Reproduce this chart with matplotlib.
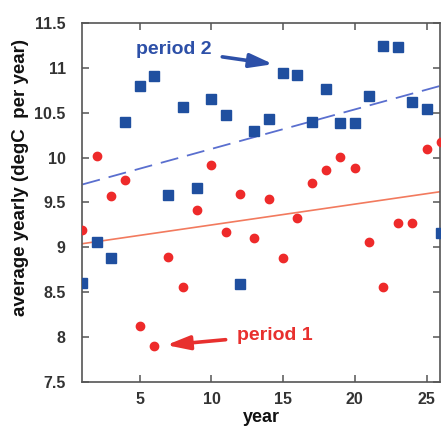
import matplotlib
matplotlib.use("Agg")
import matplotlib.pyplot as plt
import numpy as np
from matplotlib.ticker import FormatStrFormatter

# values
years = list(range(1, 27))
period1 = [9.19, 10.02, 9.57, 9.75, 8.12, 7.90, 8.89, 8.56, 9.42, 9.92,
           9.17, 9.59, 9.10, 9.54, 8.88, 9.33, 9.72, 9.86, 10.01, 9.88,
           9.06, 8.56, 9.27, 9.27, 10.10, 10.17]
period2 = [8.60, 9.06, 8.88, 10.40, 10.80, 10.91, 9.58, 10.56, 9.66, 10.65,
           10.47, 8.59, 10.30, 10.43, 10.94, 10.92, 10.40, 10.76, 10.39, 10.39,
           10.69, 11.24, 11.23, 10.62, 10.54, 9.16]
trend_years = [1, 26]
trend1 = [9.04, 9.62]
trend2 = [9.70, 10.80]

RED = "#ee2a2a"
RED_LINE = "#f27a5e"
BLUE = "#1f4f9f"
BLUE_LINE = "#5a6fcf"
AXIS_GRAY = "#555555"
TEXT_GRAY = "#333333"

plt.rcParams["font.family"] = ["Liberation Sans", "DejaVu Sans"]

fig = plt.figure(figsize=(4.41, 4.32), dpi=100)
ax = fig.add_axes([0.187, 0.116, 0.811, 0.831])

ax.plot(trend_years, trend1, color=RED_LINE, lw=1.2, zorder=2)
ax.plot(trend_years, trend2, color=BLUE_LINE, lw=1.3, dashes=(10, 5), zorder=2)
ax.plot(years, period2, ls="none", marker="s", ms=7.6, color=BLUE, mec=BLUE, zorder=3)
ax.plot(years, period1, ls="none", marker="o", ms=6, color=RED, mec=RED, zorder=3)

ax.annotate("period 2", xy=(14.3, 11.04), xytext=(7.35, 11.2),
            ha="center", va="center", fontsize=14, fontweight="bold", color="#2d50a8",
            arrowprops=dict(arrowstyle="-|>,head_length=1.0,head_width=0.3",
                            lw=2.6, color="#2d50a8", shrinkA=6, shrinkB=0))
ax.annotate("period 1", xy=(6.85, 7.91), xytext=(14.4, 8.02),
            ha="center", va="center", fontsize=14, fontweight="bold", color="#e8302e",
            arrowprops=dict(arrowstyle="-|>,head_length=1.0,head_width=0.3",
                            lw=2.6, color="#e8302e", shrinkA=6, shrinkB=0))

ax.set_xlim(1, 25.95)
ax.set_ylim(7.5, 11.5)
ax.set_xticks([5, 10, 15, 20, 25])
ax.set_yticks(np.arange(7.5, 11.51, 0.5))
ax.yaxis.set_major_formatter(FormatStrFormatter("%g"))
ax.tick_params(direction="in", length=5, width=1.1, top=True, right=True,
               color=AXIS_GRAY, labelsize=11.5, labelcolor=TEXT_GRAY)
ax.tick_params(axis="y", pad=12)
ax.tick_params(axis="x", pad=7)
for lab in ax.get_xticklabels() + ax.get_yticklabels():
    lab.set_fontweight("bold")
for sp in ax.spines.values():
    sp.set_color(AXIS_GRAY)
    sp.set_linewidth(1.2)

ax.set_xlabel("year", fontsize=13, fontweight="bold", color="#111111")
ax.xaxis.set_label_coords(0.5, -0.075)
ax.set_ylabel("average yearly (degC  per year)", fontsize=13.5, fontweight="bold", color="#111111")
ax.yaxis.set_label_coords(-0.15, 0.568)

fig.savefig("out.png", dpi=100)
